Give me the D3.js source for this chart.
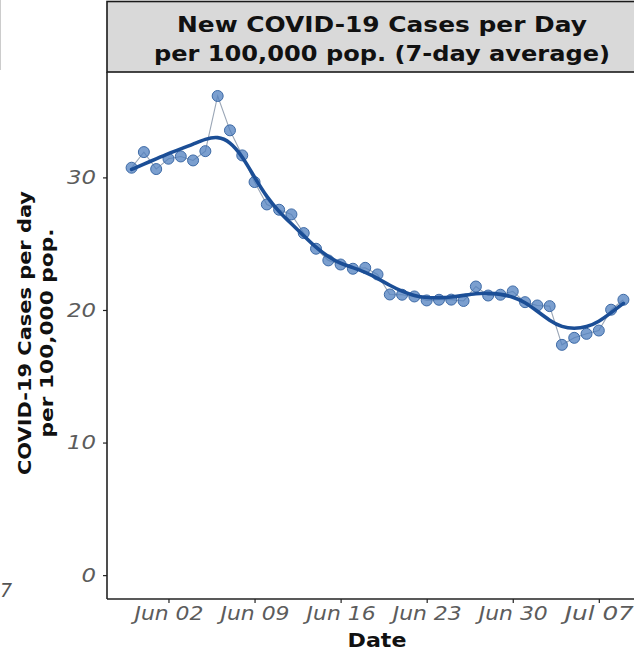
<!DOCTYPE html>
<html><head><meta charset="utf-8">
<script src="https://cdn.jsdelivr.net/npm/d3@7"></script>
<style>body{margin:0;background:#fff}svg{display:block}</style>
</head><body>
<script>
const dates = ["2021-05-30","2021-05-31","2021-06-01","2021-06-02","2021-06-03","2021-06-04","2021-06-05","2021-06-06","2021-06-07","2021-06-08","2021-06-09","2021-06-10","2021-06-11","2021-06-12","2021-06-13","2021-06-14","2021-06-15","2021-06-16","2021-06-17","2021-06-18","2021-06-19","2021-06-20","2021-06-21","2021-06-22","2021-06-23","2021-06-24","2021-06-25","2021-06-26","2021-06-27","2021-06-28","2021-06-29","2021-06-30","2021-07-01","2021-07-02","2021-07-03","2021-07-04","2021-07-05","2021-07-06","2021-07-07","2021-07-08","2021-07-09"];
const cases = [30.73,31.91,30.63,31.41,31.58,31.28,31.98,36.14,33.55,31.66,29.65,27.96,27.56,27.21,25.80,24.62,23.74,23.43,23.11,23.18,22.68,21.17,21.15,21.02,20.72,20.77,20.78,20.68,21.77,21.09,21.15,21.40,20.59,20.34,20.29,17.37,17.90,18.20,18.45,20.02,20.77];
const smooth = [30.6,31.0,31.4,31.8,32.15,32.5,32.9,33.1,32.7,31.6,30.0,28.5,27.4,26.5,25.6,24.7,24.0,23.5,23.2,22.85,22.4,21.85,21.4,21.07,20.92,20.92,20.97,21.1,21.25,21.27,21.2,21.0,20.6,19.9,19.2,18.7,18.58,18.7,19.1,19.8,20.5];
const xTickDates = ["2021-06-02","2021-06-09","2021-06-16","2021-06-23","2021-06-30","2021-07-07"];
const xTickLabels = ["Jun 02","Jun 09","Jun 16","Jun 23","Jun 30","Jul 07"];
const yTicks = [0,10,20,30];
const titleLines = ["New COVID-19 Cases per Day","per 100,000 pop. (7-day average)"];
const yTitleLines = ["COVID-19 Cases per day","per 100,000 pop."];
const xTitle = "Date";

const W=634,H=654;
const svg=d3.select("body").append("svg").attr("width",W).attr("height",H);
const parse=d3.utcParse("%Y-%m-%d");
const pL=107,pR=648,pT=72,pB=599;
const x=d3.scaleUtc().domain([parse("2021-05-28"),parse("2021-07-11")]).range([pL,pR]);
const y=d3.scaleLinear().domain([-1.8,37.95]).range([pB,pT]);
const font="DejaVu Sans, sans-serif";

// strip
svg.append("rect").attr("x",pL).attr("y",1.5).attr("width",pR-pL).attr("height",pT-1.5)
  .attr("fill","#d9d9d9").attr("stroke","#1a1a1a").attr("stroke-width",1.6);
const titleW=[410,456];
titleLines.forEach((t,i)=>svg.append("text").attr("x",382).attr("y",32+i*29)
  .attr("text-anchor","middle").attr("font-family",font).attr("font-weight","bold")
  .attr("font-size",22).attr("fill","#111")
  .attr("textLength",titleW[i]).attr("lengthAdjust","spacingAndGlyphs").text(t));

// faint left remnant
svg.append("line").attr("x1",0.5).attr("x2",0.5).attr("y1",0).attr("y2",70).attr("stroke","#ccc");
svg.append("text").attr("x",0).attr("y",597).attr("font-family",font)
  .attr("font-style","italic").attr("font-size",19).attr("fill","#555").text("7");

// axes
const yAxis=svg.append("g").attr("transform",`translate(${pL},0)`)
  .call(d3.axisLeft(y).tickValues(yTicks).tickSize(4).tickPadding(7));
const xAxis=svg.append("g").attr("transform",`translate(0,${pB})`)
  .call(d3.axisBottom(x).tickValues(xTickDates.map(parse)).tickFormat((d,i)=>xTickLabels[i]).tickSize(4).tickPadding(4));
[yAxis,xAxis].forEach(g=>{
  g.select(".domain").attr("stroke","#222").attr("stroke-width",1.6);
  g.selectAll(".tick line").attr("stroke","#222").attr("stroke-width",1.2);
  g.selectAll(".tick text").attr("font-family",font).attr("font-style","italic")
   .attr("font-size",19).attr("fill","#5c5c5c");
});
xAxis.selectAll(".tick text").each(function(){
  const w=this.getComputedTextLength(); const s=69/w;
  d3.select(this).attr("transform",`scale(${s},1)`);
});
yAxis.selectAll(".tick text").each(function(){
  const xx=+d3.select(this).attr("x");
  d3.select(this).attr("x",xx/1.2).attr("transform","scale(1.2,1)");
});
yAxis.select(".domain").attr("d",`M0,${pT}V${pB}`);
xAxis.select(".domain").attr("d",`M${pL},0H${pR}`);

// data
const pts=dates.map((d,i)=>({d:parse(d),v:cases[i],s:smooth[i]}));
svg.append("path").datum(pts).attr("fill","none").attr("stroke","#9aa6b6").attr("stroke-width",1.1)
  .attr("d",d3.line().x(p=>x(p.d)).y(p=>y(p.v)));
svg.append("g").selectAll("circle").data(pts).join("circle")
  .attr("cx",p=>x(p.d)).attr("cy",p=>y(p.v)).attr("r",5.5)
  .attr("fill","#4f7fbf").attr("fill-opacity",0.75).attr("stroke","#3d6aa6").attr("stroke-width",1);
svg.append("path").datum(pts).attr("fill","none").attr("stroke","#1b4e96").attr("stroke-width",3.6)
  .attr("stroke-linecap","round")
  .attr("d",d3.line().curve(d3.curveBasis).x(p=>x(p.d)).y(p=>y(p.s)));

// axis titles
const ytW=[284,209];
yTitleLines.forEach((t,i)=>svg.append("text")
  .attr("transform",`translate(${31+i*22},333) rotate(-90)`).attr("text-anchor","middle")
  .attr("font-family",font).attr("font-weight","bold").attr("font-size",18.5).attr("fill","#111")
  .attr("textLength",ytW[i]).attr("lengthAdjust","spacingAndGlyphs").text(t));
svg.append("text").attr("x",377).attr("y",647).attr("text-anchor","middle").attr("font-family",font)
  .attr("font-weight","bold").attr("font-size",19).attr("fill","#111")
  .attr("textLength",59).attr("lengthAdjust","spacingAndGlyphs").text(xTitle);
</script>
</body></html>
